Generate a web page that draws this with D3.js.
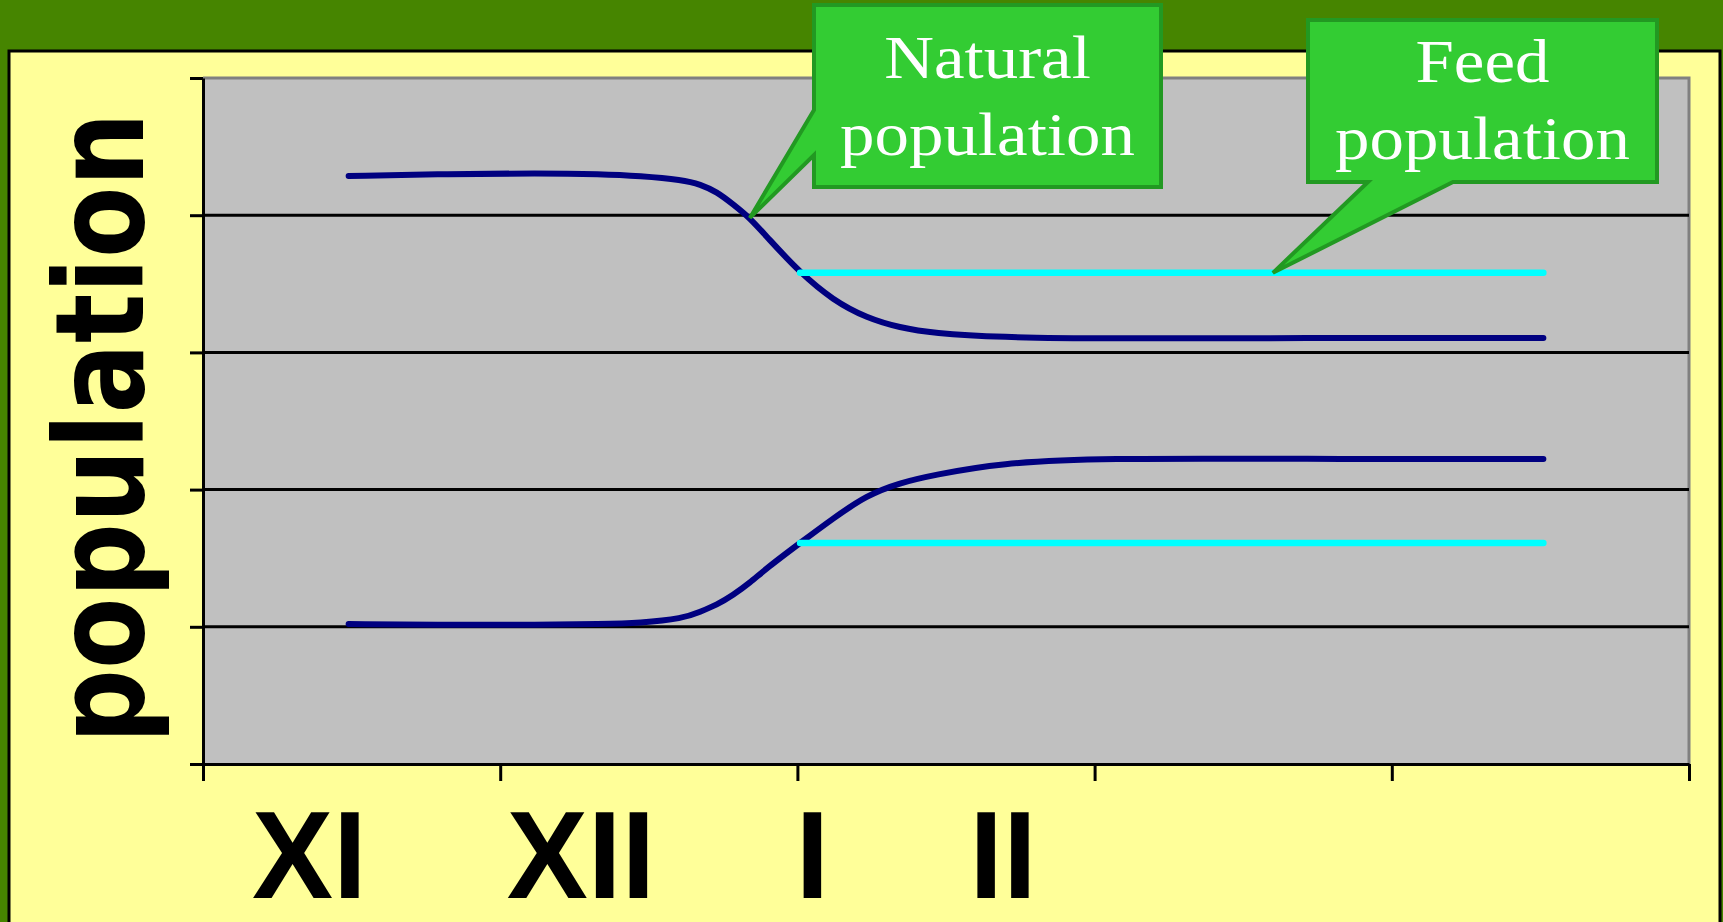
<!DOCTYPE html>
<html>
<head>
<meta charset="utf-8">
<script src="https://cdn.jsdelivr.net/npm/d3@7"></script>
<style>
  html, body { margin: 0; padding: 0; background: #468500; }
  svg { display: block; }
</style>
</head>
<body>
<svg id="chart" width="1723" height="922"></svg>
<script>
// Month labels along the time axis
const monthLabels = ["XI", "XII", "I", "II"];

// Shared time samples (in month units from the left edge of the axis)
const timeSteps = [0.49, 0.83, 1.13, 1.34, 1.47, 1.615, 1.673, 1.729, 1.783, 1.84,
                   1.898, 2.009, 2.12, 2.234, 2.345, 2.456, 2.682, 3.018, 3.691, 4.51];

// Natural population: upper group declines, lower group grows
const naturalUpper = [4.286, 4.300, 4.307, 4.300, 4.286, 4.257, 4.225, 4.17, 4.08, 3.98,
                      3.84, 3.58, 3.38, 3.25, 3.18, 3.14, 3.11, 3.10, 3.105, 3.105];
const naturalLower = [1.020, 1.013, 1.013, 1.020, 1.028, 1.06, 1.11, 1.16, 1.23, 1.32,
                      1.43, 1.611, 1.79, 1.96, 2.05, 2.106, 2.194, 2.23, 2.223, 2.223];

// Feed population: held constant from month I onwards
const feedTime = [2.009, 4.51];
const feedUpper = [3.58, 3.58];
const feedLower = [1.611, 1.611];

// Callout anchors (time, level)
const naturalNote = { lines: ["Natural", "population"], at: [1.84, 3.98] };
const feedNote = { lines: ["Feed", "population"], at: [3.60, 3.58] };

const yTicks = [0, 1, 2, 3, 4, 5];
const xTicks = [0, 1, 2, 3, 4, 5];

const svg = d3.select("#chart");
const W = 1723, H = 922;
const plot = { left: 203, right: 1689, top: 78, bottom: 764 };

const x = d3.scaleLinear().domain([0, 5]).range([plot.left, plot.right]);
const y = d3.scaleLinear().domain([0, 5]).range([plot.bottom, plot.top]);

// Background panel
svg.append("rect").attr("x", 0).attr("y", 0).attr("width", W).attr("height", H).attr("fill", "#468500");
svg.append("rect").attr("x", 9).attr("y", 51).attr("width", 1711).attr("height", 900)
  .attr("fill", "#FFFF99").attr("stroke", "#000").attr("stroke-width", 3);

// Plot area
svg.append("rect").attr("x", plot.left).attr("y", plot.top)
  .attr("width", plot.right - plot.left).attr("height", plot.bottom - plot.top)
  .attr("fill", "#C0C0C0");

// Gray frame on top and right
svg.append("path")
  .attr("d", `M${plot.left},${y(5)}H${x(5)}V${plot.bottom}`)
  .attr("fill", "none").attr("stroke", "#808080").attr("stroke-width", 3);

// Horizontal gridlines
svg.append("g").selectAll("line").data(yTicks.filter(d => d > 0 && d < 5)).join("line")
  .attr("x1", plot.left).attr("x2", plot.right)
  .attr("y1", d => y(d)).attr("y2", d => y(d))
  .attr("stroke", "#000").attr("stroke-width", 3);

// Axes
const yAxis = svg.append("g").attr("transform", `translate(${plot.left},0)`)
  .call(d3.axisLeft(y).tickValues(yTicks).tickSize(13).tickSizeOuter(0).tickFormat(""));
const xAxis = svg.append("g").attr("transform", `translate(0,${plot.bottom})`)
  .call(d3.axisBottom(x).tickValues(xTicks).tickSize(17).tickSizeOuter(0).tickFormat(""));
[yAxis, xAxis].forEach(g => {
  g.selectAll("path.domain").attr("stroke", "#000").attr("stroke-width", 3);
  g.selectAll(".tick line").attr("stroke", "#000").attr("stroke-width", 3);
});

// Series lines
const line = d3.line().x(d => x(d[0])).y(d => y(d[1])).curve(d3.curveBasis);
const zip = (xs, ys) => xs.map((v, i) => [v, ys[i]]);

const series = [
  { pts: zip(timeSteps, naturalUpper), color: "#000080", w: 6 },
  { pts: zip(timeSteps, naturalLower), color: "#000080", w: 6 },
  { pts: zip(feedTime, feedUpper), color: "#00FFFF", w: 6.5 },
  { pts: zip(feedTime, feedLower), color: "#00FFFF", w: 6.5 }
];
svg.append("g").selectAll("path").data(series).join("path")
  .attr("d", d => line(d.pts))
  .attr("fill", "none")
  .attr("stroke", d => d.color)
  .attr("stroke-width", d => d.w)
  .attr("stroke-linecap", "round")
  .attr("stroke-linejoin", "round");

// Callouts
function callout(note, box, pointer) {
  const tx = x(note.at[0]), ty = y(note.at[1]);
  let d;
  if (pointer.side === "left") {
    d = `M${box.x0},${box.y0}H${box.x1}V${box.y1}H${box.x0}V${pointer.b}L${tx},${ty}L${box.x0},${pointer.a}Z`;
  } else {
    d = `M${box.x0},${box.y0}H${box.x1}V${box.y1}H${pointer.b}L${tx},${ty}L${pointer.a},${box.y1}H${box.x0}Z`;
  }
  const g = svg.append("g");
  g.append("path").attr("d", d)
    .attr("fill", "#33CC33").attr("stroke", "#229922").attr("stroke-width", 4)
    .attr("stroke-linejoin", "miter");
  const cx = (box.x0 + box.x1) / 2;
  note.lines.forEach((t, i) => {
    g.append("text")
      .attr("transform", `translate(${cx},${box.base + i * 77}) scale(1.13,1)`)
      .attr("text-anchor", "middle")
      .attr("font-family", "'Liberation Serif', 'Times New Roman', serif")
      .attr("font-size", 61)
      .attr("fill", "#fff")
      .text(t);
  });
}
callout(naturalNote, { x0: 814, x1: 1161, y0: 5, y1: 187, base: 78 }, { side: "left", a: 110, b: 155 });
callout(feedNote, { x0: 1308, x1: 1657, y0: 20, y1: 182, base: 82 }, { side: "bottom", a: 1368, b: 1453 });

// Y axis title
svg.append("text")
  .attr("transform", "translate(143,428) scale(1.18,1) rotate(-90)")
  .attr("text-anchor", "middle")
  .attr("font-family", "'DejaVu Sans', Verdana, sans-serif")
  .attr("font-weight", "bold")
  .attr("font-size", 104)
  .attr("fill", "#000")
  .text("population");

// Month labels, laid out left to right with a fixed gap
const labelScale = 0.98, labelGap = 140;
let cursor = 252;
monthLabels.forEach(lbl => {
  const t = svg.append("text")
    .attr("font-family", "'Liberation Sans', Arial, sans-serif")
    .attr("font-weight", "bold")
    .attr("font-size", 124)
    .attr("fill", "#000")
    .text(lbl);
  t.attr("transform", `translate(${cursor},898) scale(${labelScale},1)`);
  cursor += t.node().getComputedTextLength() * labelScale + labelGap;
});
</script>
</body>
</html>
